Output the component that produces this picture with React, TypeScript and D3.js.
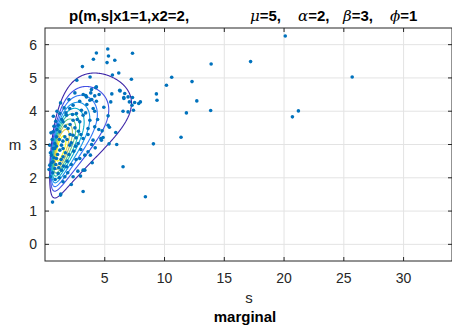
import React from 'react';
import * as d3 from 'd3';

// ---- data ----
const xObs = [1, 2];
const MU = 5;
const ALPHA = 2;
const BETA = 3;
const PHI = 1;
const xTicks = [5, 10, 15, 20, 25, 30];
const yTicks = [0, 1, 2, 3, 4, 5, 6];
const levelFractions = [0.088, 0.18, 0.27, 0.36, 0.45, 0.54, 0.63, 0.72, 0.81, 0.9];

// posterior samples [s, m]
const samples: [number, number][] = [
  [20.1, 6.26], [13.9, 5.42], [17.2, 5.49], [12.3, 4.89], [12.7, 4.31], [11.83, 3.95], [13.86, 4.02],
  [21.2, 4.01], [20.7, 3.83], [25.7, 5.03], [10.6, 5.02], [10.16, 4.78], [9.32, 4.52], [9.37, 4.33],
  [11.38, 3.22], [9.07, 3.02], [6.53, 2.33], [8.4, 1.43],
  [4.3, 5.75], [5.25, 5.87], [5.31, 5.66], [5.19, 5.46], [5.84, 5.53], [7.32, 5.74], [6.17, 5.15],
  [5.64, 5.09], [7.23, 4.96], [4.3, 4.73], [6.28, 4.61], [5.59, 4.52], [6.67, 4.53], [6.59, 4.41],
  [6.95, 4.43], [7.32, 4.41], [4.3, 4.3], [6.6, 4.38], [7.5, 4.26], [7.98, 4.28], [7.28, 4.18],
  [7.06, 4.28], [5.5, 4.28], [7.4, 4.03], [6.95, 3.98], [5.28, 3.86], [5.28, 3.58], [5.39, 3.52],
  [4.78, 3.41], [4.67, 3.18], [5.92, 3.36], [5.36, 3.02], [6.0, 3.0],
  [4.05, 5.56], [3.13, 5.34], [3.77, 5.03], [2.66, 4.93], [4.25, 4.71], [6.25, 4.63], [7.84, 4.23],
  [6.53, 4.0], [4.92, 4.12], [4.16, 4.0], [3.83, 4.55], [3.89, 4.65], [4.53, 4.5], [3.41, 4.47],
  [3.91, 4.35], [4.16, 4.46], [3.47, 4.43],
  [4.72, 3.13], [4.86, 3.21], [3.19, 1.59], [1.32, 1.51], [0.63, 1.27], [0.34, 2.25], [0.46, 2.03],
  [2.97, 2.05], [3.33, 2.23], [3.8, 2.68], [3.6, 2.78],
  [3.75, 4.33], [4.03, 4.08], [3.05, 4.03], [2.35, 4.18], [2.07, 4.08], [1.24, 3.93], [1.8, 3.88],
  [2.63, 3.93], [3.19, 3.88], [3.75, 3.73], [4.16, 3.53], [3.6, 3.48], [2.91, 3.68], [2.35, 3.73],
  [1.51, 3.68], [1.1, 3.58], [1.93, 3.48], [1.24, 3.38], [0.68, 3.38], [0.96, 3.23], [1.66, 3.23],
  [2.35, 3.28], [3.19, 3.18], [4.02, 3.13], [0.82, 3.03], [1.38, 2.98], [2.07, 2.98], [0.4, 2.98],
  [2.77, 3.03], [0.82, 2.88], [1.51, 2.88],
  [0.68, 2.88], [1.24, 2.83], [0.54, 2.68], [0.96, 2.58], [1.51, 2.63], [0.68, 2.48], [1.24, 2.43],
  [0.4, 2.38], [0.82, 2.28], [1.38, 2.23], [1.8, 2.33], [1.1, 2.13], [1.66, 2.03], [2.35, 2.03],
  [1.51, 1.88], [3.19, 2.23], [2.91, 2.58], [3.33, 2.68], [1.3, 1.48],
  [0.9, 3.7], [1.4, 3.75], [1.7, 3.55], [2.1, 3.6], [2.5, 3.5], [2.8, 3.4], [3.0, 3.3], [0.75, 3.55],
  [1.2, 3.15], [1.5, 3.1], [1.85, 3.15], [2.2, 3.05], [2.6, 3.2], [0.6, 3.15], [0.95, 2.95],
  [1.7, 2.75], [2.0, 2.7], [2.4, 2.8], [2.6, 2.55], [1.05, 2.7], [0.75, 2.6], [1.35, 2.55],
  [1.85, 2.5], [2.2, 2.4], [0.55, 2.45], [0.9, 2.4], [1.55, 2.35], [0.65, 2.15], [1.2, 2.0],
  [0.85, 1.95], [1.9, 2.15], [0.45, 2.75], [0.5, 3.35], [0.7, 3.85], [1.0, 4.0], [1.6, 4.1],
  [2.3, 3.9], [2.7, 3.75], [3.4, 3.95], [3.5, 4.2], [2.9, 4.3], [2.0, 4.35], [1.3, 4.25],
  [2.5, 4.55], [3.2, 4.5], [3.6, 3.3], [3.9, 3.0], [4.4, 3.75], [4.5, 3.45], [2.1, 3.3], [1.0, 3.45],
  [1.75, 3.95], [3.0, 2.85], [2.55, 2.95], [1.15, 2.3], [4.2, 2.9], [3.95, 2.45], [2.75, 2.2], [2.2, 1.8],
];

// parula colormap stops (t = 0, 1/8, ..., 1)
const parulaStops = [
  '#3e26a8', '#4852f4', '#2b85fb', '#12a2e2', '#06b8bf',
  '#42c791', '#9ebe6b', '#efbb3e', '#f9fa0e',
];

const W = 452;
const H = 329;
const L = 45;
const R = 452;
const T = 28;
const B = 261;

function logPost(s: number, m: number): number {
  const n = xObs.length;
  let ss = 0;
  for (const x of xObs) ss += (x - m) * (x - m);
  return (
    -PHI * (m - MU) * (m - MU) / 2 -
    (ALPHA + 1) * Math.log(s) - BETA / s -
    (n / 2) * Math.log(s) - ss / (2 * s)
  );
}

export default function App() {
  const x = d3.scaleLinear().domain([0.0, 34.05]).range([L, R]);
  const y = d3.scaleLinear().domain([-0.5, 6.5]).range([B, T]);

  // grid for contour
  const s0 = 0.02, ds = 0.04, nx = 300;
  const m0 = -0.5, dm = 0.03, ny = 250;
  const vals = new Array(nx * ny);
  let maxV = 0;
  for (let j = 0; j < ny; j++) {
    const m = m0 + j * dm;
    for (let i = 0; i < nx; i++) {
      const s = s0 + i * ds;
      const v = Math.exp(logPost(s, m));
      vals[j * nx + i] = v;
      if (v > maxV) maxV = v;
    }
  }
  const levels = levelFractions.map((f) => f * maxV);
  const contours = d3.contours().size([nx, ny]).thresholds(levels)(vals);
  const proj = d3.geoTransform({
    point(px: number, py: number) {
      (this as any).stream.point(x(s0 + (px - 0.5) * ds), y(m0 + (py - 0.5) * dm));
    },
  });
  const path = d3.geoPath(proj);
  const parula = d3.interpolateRgbBasis(parulaStops);
  const colorOf = (k: number) => parula(k / (levels.length - 1));

  const axisColor = '#262626';
  const gridColor = '#e3e3e3';
  const font = 'Liberation Sans, Arial, Helvetica, sans-serif';
  const greek = 'DejaVu Serif, serif';

  return (
    <svg width={W} height={H} style={{ position: 'absolute', left: 0, top: 0, background: '#fff' }}
      fontFamily={font}>
      <defs>
        <clipPath id="plotclip">
          <rect x={L} y={T} width={R - L} height={B - T} />
        </clipPath>
      </defs>
      <rect x={0} y={0} width={W} height={H} fill="#fff" />
      {/* grid */}
      {xTicks.map((t) => (
        <line key={'gx' + t} x1={x(t)} x2={x(t)} y1={T} y2={B} stroke={gridColor} strokeWidth={1} />
      ))}
      {yTicks.map((t) => (
        <line key={'gy' + t} x1={L} x2={R} y1={y(t)} y2={y(t)} stroke={gridColor} strokeWidth={1} />
      ))}
      <g clipPath="url(#plotclip)">
        {contours.map((c, k) => (
          <path key={'c' + k} d={path(c as any) || ''} fill="none" stroke={colorOf(k)} strokeWidth={1.1} />
        ))}
        {samples.map((p, i) => (
          <circle key={'p' + i} cx={x(p[0])} cy={y(p[1])} r={1.8} fill="#0072BD" />
        ))}
      </g>
      {/* axes box */}
      <rect x={L} y={T} width={R - L} height={B - T} fill="none" stroke={axisColor} strokeWidth={1} />
      {xTicks.map((t) => (
        <g key={'tx' + t}>
          <line x1={x(t)} x2={x(t)} y1={B} y2={B - 4} stroke={axisColor} />
          <line x1={x(t)} x2={x(t)} y1={T} y2={T + 4} stroke={axisColor} />
          <text x={x(t)} y={283} textAnchor="middle" fontSize={14} fill={axisColor}>{t}</text>
        </g>
      ))}
      {yTicks.map((t) => (
        <g key={'ty' + t}>
          <line x1={L} x2={L + 4} y1={y(t)} y2={y(t)} stroke={axisColor} />
          <line x1={R} x2={R - 4} y1={y(t)} y2={y(t)} stroke={axisColor} />
          <text x={37} y={y(t) + 5} textAnchor="end" fontSize={14} fill={axisColor}>{t}</text>
        </g>
      ))}
      {/* labels */}
      <text x={249} y={303} textAnchor="middle" fontSize={15} fill={axisColor}>s</text>
      <text x={15} y={150} textAnchor="middle" fontSize={15} fill={axisColor}>m</text>
      <text x={245} y={322} textAnchor="middle" fontSize={15} fontWeight="bold" fill="#000">marginal</text>
      {/* title */}
      <text y={21} fontSize={15} fontWeight="bold" fill="#000">
        <tspan x={69}>p(m,s|x1=1,x2=2,</tspan>
        <tspan x={250} fontStyle="italic" fontWeight="normal" fontFamily={greek}>μ</tspan>
        <tspan>=5,</tspan>
        <tspan x={298} fontStyle="italic" fontWeight="normal" fontFamily={greek}>α</tspan>
        <tspan>=2,</tspan>
        <tspan x={343} fontStyle="italic" fontWeight="normal" fontFamily={greek}>β</tspan>
        <tspan>=3,</tspan>
        <tspan x={390} fontStyle="italic" fontWeight="normal" fontFamily={greek}>ϕ</tspan>
        <tspan>=1</tspan>
      </text>
    </svg>
  );
}
